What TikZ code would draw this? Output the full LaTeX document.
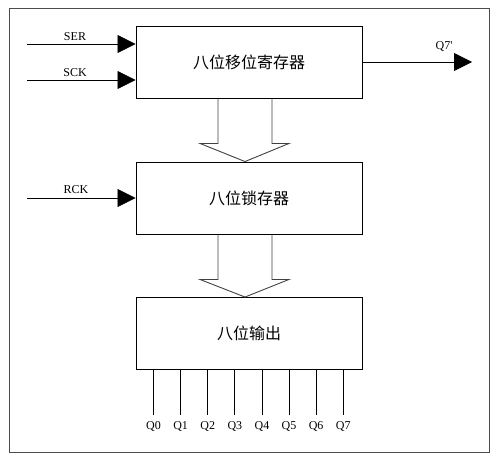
\documentclass[tikz,border=0pt]{standalone}
\usepackage{fontspec}
\setmainfont{Liberation Serif}
\newfontfamily\cjk{Noto Sans CJK SC}
\usetikzlibrary{arrows.meta,calc}
\begin{document}
\begin{tikzpicture}[x=1pt,y=-1pt,
  blk/.style={draw=black,line width=0.9pt,minimum width=226pt,minimum height=72pt,inner sep=0pt,font=\cjk\fontsize{16}{16}\selectfont},
  sig/.style={line width=0.8pt,-{Triangle[length=18pt,width=18pt]}},
  lbl/.style={font=\fontsize{12}{12}\selectfont,inner sep=0pt},
  barrow/.style={draw=black!75,line width=0.9pt,line join=miter},
  frame/.style={draw=black!70,line width=1pt}]
\useasboundingbox (0,0) rectangle (502,463);
\draw[frame] (9,8) rectangle (489,452);
\node[blk] (b1) at (249,62) {八位移位寄存器};
\node[blk] (b2) at (249,198) {八位锁存器};
\node[blk] (b3) at (249,333.5) {八位输出};
% inputs
\coordinate (ser) at (27,44);
\coordinate (sck) at (27,80);
\coordinate (rck) at (27,198);
\draw[sig] (ser) -- (ser -| b1.west);
\draw[sig] (sck) -- (sck -| b1.west);
\draw[sig] (rck) -- (rck -| b2.west);
\node[lbl] (tser) at (75,37) {SER};
\node[lbl] (tsck) at (75,73) {SCK};
\node[lbl] (trck) at (76,190) {RCK};
% output
\coordinate (q7s) at (472,62);
\draw[sig] (b1.east) -- (q7s);
\node[lbl] (tq7) at (444,46) {Q7\textquotesingle};
% block arrows
\draw[barrow] ($(b1.south)+(-31,0)$) -- ++(0,45) -- ++(-18,0) -- ($(b2.north)+(-4,0)$) -- ($(b1.south)+(40,45)$) -- ++(-17,0) -- ($(b1.south)+(23,0)$);
\draw[barrow] ($(b2.south)+(-31,0)$) -- ++(0,45) -- ++(-18,0) -- ($(b3.north)+(-4,0)$) -- ($(b2.south)+(40,45)$) -- ++(-17,0) -- ($(b2.south)+(23,0)$);
% outputs
\foreach \i in {0,...,7}{
  \coordinate (o\i) at ($(b3.south west)+(18+27.1*\i,0)$);
  \draw[line width=0.8pt] (o\i) -- ++(0,45) coordinate (e\i);
  \node[lbl] (tq\i) at ($(e\i)+(0,12)$) {Q\i};
}
\end{tikzpicture}
\end{document}
